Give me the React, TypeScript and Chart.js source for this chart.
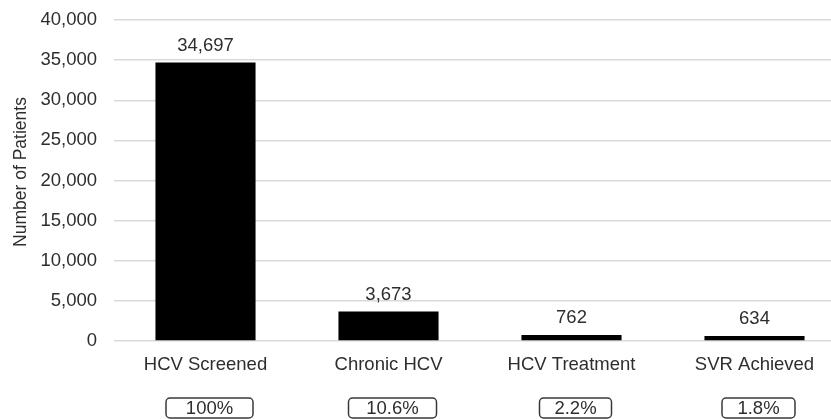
import React, { useEffect, useRef } from "react";
import { Chart, registerables } from "chart.js";

Chart.register(...registerables);

// ---- Data ----
const categories = ["HCV Screened", "Chronic HCV", "HCV Treatment", "SVR Achieved"];
const patients = [34697, 3673, 762, 634];
const percentLabels = ["100%", "10.6%", "2.2%", "1.8%"];
const yMin = 0;
const yMax = 40000;
const yStep = 5000;
const yTitle = "Number of Patients";

// ---- Styles ----
const FONT = "'Liberation Sans', Arial, Helvetica, sans-serif";
const FS = 18.5;
const TEXT = "#2e2e2e";
const GRID = "#d9d9d9";
const BOX_WIDTHS = [87, 88, 72, 73];

const fmt = (v: number) => Number(v).toLocaleString("en-US");

const annotatePlugin = {
  id: "annotate",
  afterDatasetsDraw(chart: any) {
    const ctx = chart.ctx;
    const meta = chart.getDatasetMeta(0);
    const xs = chart.scales.x;
    ctx.save();
    ctx.font = `${FS}px ${FONT}`;
    ctx.fillStyle = TEXT;
    ctx.textAlign = "center";
    ctx.textBaseline = "middle";
    meta.data.forEach((bar: any, i: number) => {
      ctx.fillText(fmt(patients[i]), bar.x, bar.y - 17);
    });
    percentLabels.forEach((t, i) => {
      const cx = xs.getPixelForValue(i) + 4;
      const w = BOX_WIDTHS[i];
      const h = 20;
      const cy = xs.bottom - 11;
      ctx.beginPath();
      ctx.roundRect(cx - w / 2, cy - h / 2, w, h, 4);
      ctx.lineWidth = 1.5;
      ctx.strokeStyle = "#3a3a3a";
      ctx.stroke();
      ctx.fillStyle = TEXT;
      ctx.fillText(t, cx, cy + 1);
    });
    // y-axis title
    ctx.save();
    ctx.translate(21, 172);
    ctx.rotate(-Math.PI / 2);
    ctx.font = `17.5px ${FONT}`;
    ctx.fillText(yTitle, 0, 0);
    ctx.restore();
    ctx.restore();
  },
};

export default function App() {
  const ref = useRef<HTMLCanvasElement | null>(null);

  useEffect(() => {
    document.body.style.margin = "0";
    const canvas = ref.current;
    if (!canvas) return;
    const chart = new Chart(canvas, {
      type: "bar",
      data: {
        labels: categories,
        datasets: [
          {
            data: patients,
            backgroundColor: "#000000",
            borderWidth: 0,
            categoryPercentage: 1,
            barPercentage: 0.547,
          },
        ],
      },
      options: {
        responsive: false,
        animation: false,
        devicePixelRatio: 1,
        layout: { padding: { top: 20, left: 0, right: 0, bottom: 0 } },
        plugins: {
          legend: { display: false },
          tooltip: { enabled: false },
        },
        scales: {
          x: {
            grid: { display: false },
            border: { display: false },
            ticks: {
              color: TEXT,
              padding: 5,
              font: { size: FS, family: FONT },
            },
            afterFit: (s: any) => {
              s.height = 78;
              s.paddingLeft = 0;
              s.paddingRight = 0;
            },
          },
          y: {
            min: yMin,
            max: yMax,
            grid: { color: GRID, lineWidth: 1.5, drawTicks: false },
            border: { display: false },
            ticks: {
              stepSize: yStep,
              color: TEXT,
              padding: 17,
              font: { size: FS, family: FONT },
              callback: (v: any) => fmt(v),
            },
            title: { display: false },
            afterFit: (s: any) => {
              s.width = 114;
              s.paddingTop = 0;
              s.paddingBottom = 0;
            },
          },
        },
      },
      plugins: [annotatePlugin],
    });
    return () => chart.destroy();
  }, []);

  return (
    <div style={{ width: 831, height: 419, overflow: "hidden", position: "relative", background: "#fff" }}>
      <canvas ref={ref} width={846} height={419} style={{ display: "block", width: 846, height: 419 }} />
    </div>
  );
}
